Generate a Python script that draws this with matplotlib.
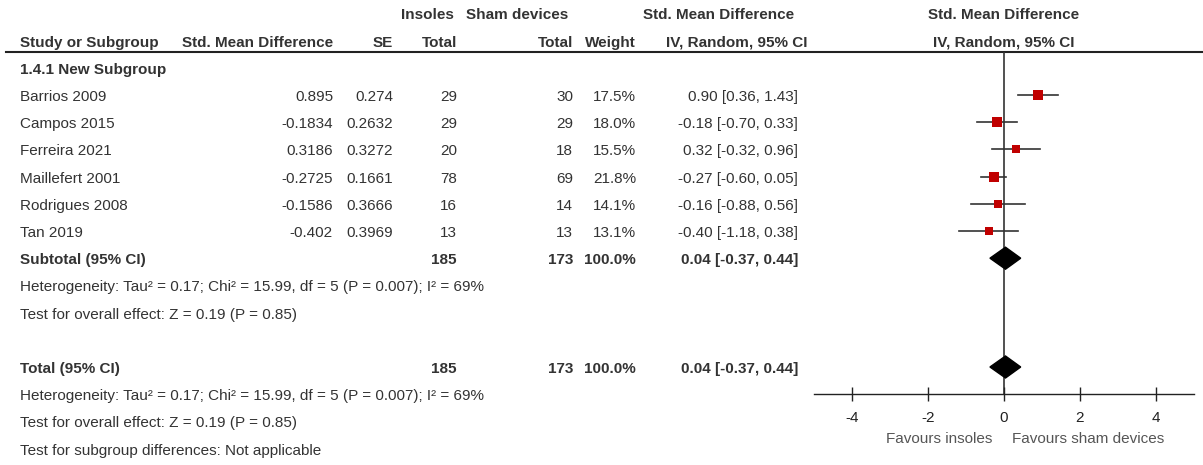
import matplotlib
matplotlib.use("Agg")
import matplotlib.pyplot as plt

plt.rcParams['font.family'] = ['Liberation Sans', 'DejaVu Sans']
plt.rcParams['axes.unicode_minus'] = False

# data
studies = ["Barrios 2009", "Campos 2015", "Ferreira 2021", "Maillefert 2001",
           "Rodrigues 2008", "Tan 2019"]
smd = [0.895, -0.1834, 0.3186, -0.2725, -0.1586, -0.402]
se = [0.274, 0.2632, 0.3272, 0.1661, 0.3666, 0.3969]
n_insoles = [29, 29, 20, 78, 16, 13]
n_sham = [30, 29, 18, 69, 14, 13]
weights = [17.5, 18.0, 15.5, 21.8, 14.1, 13.1]
est = [0.90, -0.18, 0.32, -0.27, -0.16, -0.40]
ci_lo = [0.36, -0.70, -0.32, -0.60, -0.88, -1.18]
ci_hi = [1.43, 0.33, 0.96, 0.05, 0.56, 0.38]
total_insoles = 185
total_sham = 173
pooled = 0.04
pooled_lo = -0.37
pooled_hi = 0.44
het_text = "Heterogeneity: Tau² = 0.17; Chi² = 15.99, df = 5 (P = 0.007); I² = 69%"
effect_text = "Test for overall effect: Z = 0.19 (P = 0.85)"
xticks = [-4, -2, 0, 2, 4]

W, H = 1203, 465
fig = plt.figure(figsize=(W / 100, H / 100), dpi=100)
ax = fig.add_axes([0, 0, 1, 1])
ax.set_xlim(0, W)
ax.set_ylim(H, 0)
ax.axis('off')

txt = '#333333'
fs = 11

def row(k):
    return 15.4 + 27.2 * k

def t(x, y, s, ha='left', bold=False, color=txt):
    ax.text(x, y, s, ha=ha, va='center', fontsize=fs, color=color,
            fontweight='bold' if bold else 'normal')

# column right edges
c_smd, c_se, c_n1, c_n2, c_w, c_ci = 333, 393, 457, 573, 636, 798

# headers
t(454, row(0), "Insoles", 'right', True)
t(568, row(0), "Sham devices", 'right', True)
t(719, row(0), "Std. Mean Difference", 'center', True)
t(1004, row(0), "Std. Mean Difference", 'center', True)
t(20, row(1), "Study or Subgroup", bold=True)
t(c_smd, row(1), "Std. Mean Difference", 'right', True)
t(c_se, row(1), "SE", 'right', True)
t(c_n1, row(1), "Total", 'right', True)
t(c_n2, row(1), "Total", 'right', True)
t(c_w, row(1), "Weight", 'right', True)
t(807, row(1), "IV, Random, 95% CI", 'right', True)
t(1004, row(1), "IV, Random, 95% CI", 'center', True)
ax.plot([6, W], [52, 52], color='#222222', lw=1.5)

t(20, row(2), "1.4.1 New Subgroup", bold=True)

for i, name in enumerate(studies):
    y = row(3 + i)
    t(20, y, name)
    t(c_smd, y, str(smd[i]), 'right')
    t(c_se, y, str(se[i]), 'right')
    t(c_n1, y, str(n_insoles[i]), 'right')
    t(c_n2, y, str(n_sham[i]), 'right')
    t(c_w, y, "%.1f%%" % weights[i], 'right')
    t(c_ci, y, "%.2f [%.2f, %.2f]" % (est[i], ci_lo[i], ci_hi[i]), 'right')

ci_txt = "%.2f [%.2f, %.2f]" % (pooled, pooled_lo, pooled_hi)
for k, label in [(9, "Subtotal (95% CI)"), (13, "Total (95% CI)")]:
    y = row(k)
    t(20, y, label, bold=True)
    t(c_n1, y, str(total_insoles), 'right', True)
    t(c_n2, y, str(total_sham), 'right', True)
    t(c_w, y, "100.0%", 'right', True)
    t(c_ci, y, ci_txt, 'right', True)
    t(20, row(k + 1), het_text)
    t(20, row(k + 2), effect_text)
t(20, row(16), "Test for subgroup differences: Not applicable")

t(992, 439, "Favours insoles", 'right', color='#555555')
t(1012, 439, "Favours sham devices", 'left', color='#555555')

# forest panel
axis_y = 394
fax = fig.add_axes([814 / W, (H - axis_y) / H, 380 / W, (axis_y - 52) / H])
fax.set_xlim(-5, 5)
fax.set_ylim(axis_y, 52)
fax.patch.set_alpha(0)
for s in ['top', 'left', 'right']:
    fax.spines[s].set_visible(False)
fax.spines['bottom'].set_color('#222222')
fax.spines['bottom'].set_linewidth(1.0)
fax.set_yticks([])
fax.set_xticks(xticks)
fax.tick_params(axis='x', direction='inout', length=10, width=1.0,
                colors='#222222', labelsize=fs, pad=7)
fax.axvline(0, color='#333333', lw=1.2, zorder=1)

for i in range(len(studies)):
    y = row(3 + i) - 2
    fax.plot([ci_lo[i], ci_hi[i]], [y, y], color='#333333', lw=1.2, zorder=2)
    size_px = 2.2 * weights[i] ** 0.5
    fax.plot(smd[i], y, marker='s', color='#c00000', ms=size_px * 0.72,
             mew=0, zorder=3)

for k in [9, 13]:
    y = row(k) - 2
    fax.fill([pooled_lo, pooled, pooled_hi, pooled],
             [y, y - 11, y, y + 11], color='black', zorder=3)

fig.savefig("out.png", dpi=100)
